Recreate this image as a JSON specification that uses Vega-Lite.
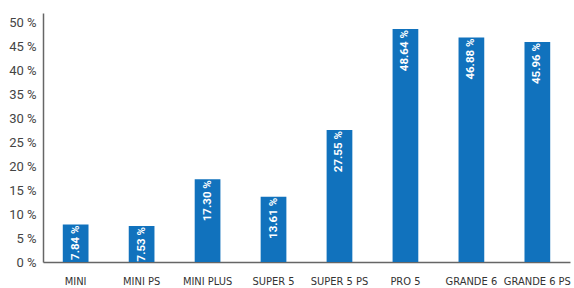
{
  "$schema": "https://vega.github.io/schema/vega-lite/v6.json",
  "width": 527,
  "height": 249,
  "autosize": {"type": "none"},
  "padding": {"left": 43, "top": 13, "right": 4, "bottom": 26},
  "background": "white",
  "data": {"values": [
    {"model": "MINI", "pct": 7.84, "label": "7.84 %"},
    {"model": "MINI PS", "pct": 7.53, "label": "7.53 %"},
    {"model": "MINI PLUS", "pct": 17.30, "label": "17.30 %"},
    {"model": "SUPER 5", "pct": 13.61, "label": "13.61 %"},
    {"model": "SUPER 5 PS", "pct": 27.55, "label": "27.55 %"},
    {"model": "PRO 5", "pct": 48.64, "label": "48.64 %"},
    {"model": "GRANDE 6", "pct": 46.88, "label": "46.88 %"},
    {"model": "GRANDE 6 PS", "pct": 45.96, "label": "45.96 %"}
  ]},
  "encoding": {
    "x": {"field": "model", "type": "nominal", "sort": null,
      "scale": {"paddingInner": 0.61, "paddingOuter": 0.3},
      "axis": {"title": null, "labelAngle": 0, "ticks": false, "domainColor": "#666", "domainWidth": 1.5,
        "labelFont": "DejaVu Sans Condensed, Roboto", "labelFontSize": 11, "labelColor": "#333", "labelPadding": 13}},
    "y": {"field": "pct", "type": "quantitative",
      "scale": {"domain": [0, 52], "nice": false},
      "axis": {"title": null, "values": [0,5,10,15,20,25,30,35,40,45,50], "grid": false, "ticks": false,
        "domainColor": "#666", "domainWidth": 1.5, "labelExpr": "datum.value + ' %'",
        "labelFont": "Roboto", "labelFontSize": 13, "labelColor": "#444", "labelPadding": 7}}
  },
  "layer": [
    {"mark": {"type": "bar", "color": "#1172bd"}},
    {"mark": {"type": "text", "angle": 270, "align": "right", "baseline": "middle", "dx": -1,
       "color": "white", "fontWeight": "bold", "font": "Roboto", "fontSize": 11.5},
     "encoding": {"text": {"field": "label", "type": "nominal"}}}
  ],
  "config": {"view": {"stroke": null}}
}
